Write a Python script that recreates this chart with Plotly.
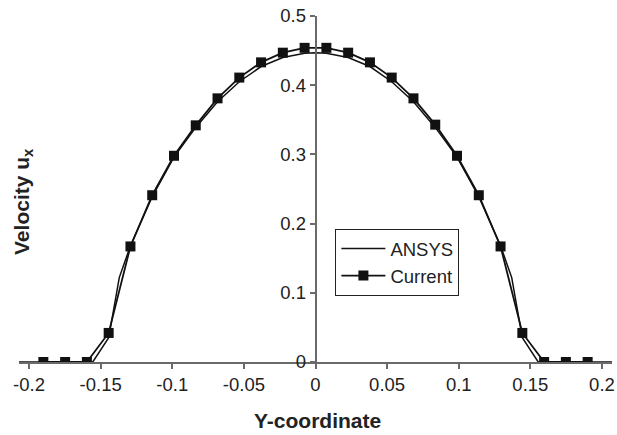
import plotly.graph_objects as go

# Current solution (square markers)
current_x = [-0.19, -0.1748, -0.1596, -0.1444, -0.1292, -0.114, -0.0988, -0.0836, -0.0684,
             -0.0532, -0.038, -0.0228, -0.0076, 0.0076, 0.0228, 0.038, 0.0532, 0.0684,
             0.0836, 0.0988, 0.114, 0.1292, 0.1444, 0.1596, 0.1748, 0.19]
current_y = [0, 0, 0, 0.042, 0.167, 0.241, 0.298, 0.342, 0.381,
             0.411, 0.433, 0.447, 0.454, 0.454, 0.447, 0.433, 0.411, 0.381,
             0.343, 0.298, 0.241, 0.167, 0.042, 0, 0, 0]

# ANSYS reference profile (plain line)
ansys_x = [-0.207, -0.1555, -0.1444, -0.137, -0.1292, -0.114, -0.0988, -0.0836, -0.0684,
           -0.0532, -0.038, -0.0228, -0.0076, 0.0, 0.0076, 0.0228, 0.038, 0.0532, 0.0684,
           0.0836, 0.0988, 0.114, 0.1292, 0.137, 0.1444, 0.1555, 0.207]
ansys_y = [0, 0, 0.035, 0.122, 0.168, 0.239, 0.296, 0.339, 0.376,
           0.405, 0.427, 0.440, 0.446, 0.447, 0.446, 0.440, 0.427, 0.405, 0.376,
           0.339, 0.296, 0.239, 0.168, 0.122, 0.035, 0, 0]

x_ticks = [-0.2, -0.15, -0.1, -0.05, 0, 0.05, 0.1, 0.15, 0.2]
x_tick_labels = ["-0.2", "-0.15", "-0.1", "-0.05", "0", "0.05", "0.1", "0.15", "0.2"]
y_ticks = [0, 0.1, 0.2, 0.3, 0.4, 0.5]
y_tick_labels = ["0", "0.1", "0.2", "0.3", "0.4", "0.5"]

FONT = "Liberation Sans, Arial, sans-serif"
W, H = 617, 435
ML, MR, MT, MB = 19, 2, 16, 73
PW, PH = W - ML - MR, H - MT - MB
TXT = "#222222"


def px_x(px):
    return (px - ML) / PW


def px_y(py):
    return 1 - (py - MT) / PH


fig = go.Figure()
fig.add_trace(go.Scatter(x=ansys_x, y=ansys_y, mode="lines", name="ANSYS",
                         line=dict(color="#111111", width=1.5)))
fig.add_trace(go.Scatter(x=current_x, y=current_y, mode="lines+markers", name="Current",
                         line=dict(color="#111111", width=1.8),
                         marker=dict(symbol="square", size=10, color="#111111")))

axis_col = "#6a6a6a"
fig.update_layout(
    width=W, height=H,
    margin=dict(l=ML, r=MR, t=MT, b=MB),
    paper_bgcolor="white", plot_bgcolor="white",
    font=dict(family=FONT, size=18.5, color=TXT),
    showlegend=True,
    legend=dict(x=px_x(337), y=px_y(229), xanchor="left", yanchor="top",
                bordercolor="#222222", borderwidth=1, bgcolor="white",
                font=dict(family=FONT, size=18.5, color=TXT),
                itemwidth=44, tracegroupgap=0),
    xaxis=dict(range=[-0.207, 0.207], tickvals=x_ticks, ticktext=x_tick_labels,
               showline=True, linecolor=axis_col, linewidth=1.5,
               ticks="outside", ticklen=5, tickcolor=axis_col, tickwidth=1.5,
               tickfont=dict(family=FONT, size=18.5, color=TXT),
               ticklabeloverflow="allow",
               showgrid=False, zeroline=False, fixedrange=True),
    yaxis=dict(range=[0, 0.5], tickvals=y_ticks, ticktext=y_tick_labels,
               anchor="free", position=0.5, side="left",
               showline=True, linecolor=axis_col, linewidth=1.5,
               ticks="outside", ticklen=5, tickcolor=axis_col, tickwidth=1.5,
               tickfont=dict(family=FONT, size=18.5, color=TXT),
               showgrid=False, zeroline=False, fixedrange=True),
    annotations=[
        dict(text="<b>Y-coordinate</b>", xref="paper", yref="paper",
             x=px_x(319), y=px_y(420), xanchor="center", yanchor="middle",
             showarrow=False, font=dict(family=FONT, size=21, color=TXT)),
        dict(text="<b>Velocity u<sub>x</sub></b>", xref="paper", yref="paper",
             x=px_x(23), y=px_y(201), xanchor="center", yanchor="middle",
             textangle=-90, showarrow=False,
             font=dict(family=FONT, size=21, color=TXT)),
    ],
)

fig.write_html("out.html")
